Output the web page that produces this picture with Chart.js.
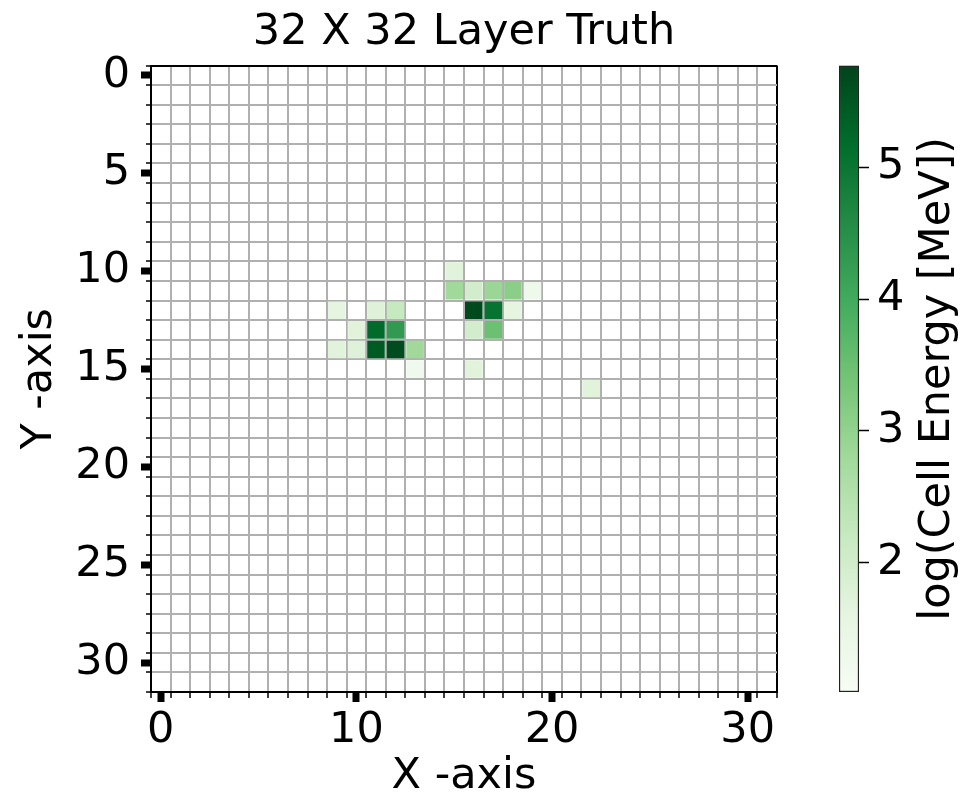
<!DOCTYPE html>
<html>
<head>
<meta charset="utf-8">
<script src="https://cdn.jsdelivr.net/npm/chart.js@4.4.1/dist/chart.umd.min.js"></script>
<style>
  body { margin: 0; background: #fff; }
  #wrap { position: relative; width: 968px; height: 803px; }
  canvas { position: absolute; left: 0; top: 0; }
</style>
</head>
<body>
<div id="wrap">
  <canvas id="heatmap" width="968" height="803"></canvas>
  <canvas id="colorbar" width="968" height="803"></canvas>
</div>
<script>
// non-empty cells of the 32x32 layer (column, row, log energy)
var cellX = [15, 15, 16, 17, 18, 19, 9, 11, 12, 16, 17, 18, 10, 11, 12, 16, 17, 9, 10, 11, 12, 13, 13, 16, 22];
var cellY = [10, 11, 11, 11, 11, 11, 12, 12, 12, 12, 12, 12, 13, 13, 13, 13, 13, 14, 14, 14, 14, 14, 15, 15, 16];
var cellEnergy = [1.7, 2.8, 2.0, 2.9, 3.1, 1.3, 1.6, 1.75, 2.2, 5.7, 5.05, 1.6, 1.7, 5.2, 4.3, 2.0, 3.5, 1.7, 1.75, 5.45, 5.65, 2.8, 1.25, 1.7, 1.7];

var gridSize = 32;
var xTicks = [0, 10, 20, 30];
var yTicks = [0, 5, 10, 15, 20, 25, 30];
var cbTicks = [2, 3, 4, 5];
var cbMin = 1.02;
var cbMax = 5.77;

// matplotlib "Greens"
var greens = ['#f7fcf5', '#e5f5e0', '#c7e9c0', '#a1d99b', '#74c476', '#41ab5d', '#238b45', '#006d2c', '#00441b'];

Chart.defaults.font.family = 'DejaVu Sans';
Chart.defaults.color = '#000';

function hexToRgb(h) {
    return [parseInt(h.substr(1, 2), 16), parseInt(h.substr(3, 2), 16), parseInt(h.substr(5, 2), 16)];
}

function greenFor(v) {
    var t = (v - cbMin) / (cbMax - cbMin);
    t = Math.max(0, Math.min(1, t));
    var pos = t * (greens.length - 1);
    var i = Math.min(Math.floor(pos), greens.length - 2);
    var f = pos - i;
    var a = hexToRgb(greens[i]), b = hexToRgb(greens[i + 1]);
    var c = a.map(function (x, k) { return Math.round(x + (b[k] - x) * f); });
    return 'rgb(' + c.join(',') + ')';
}

function isEdge(v) { return Math.abs(v % 1) === 0.5; }
function isBound(v) { return v === -0.5 || v === gridSize - 0.5; }

// boundaries at half cells plus the labelled centres
function tickBuilder(labels) {
    return function (axis) {
        var list = [];
        for (var k = 0; k <= gridSize; k++) list.push({ value: k - 0.5 });
        labels.forEach(function (v) { list.push({ value: v }); });
        list.sort(function (a, b) { return a.value - b.value; });
        axis.ticks = list;
    };
}

function gridOpts(vertical) {
    return {
        color: function (c) {
            if (!c.tick) return 'rgba(0,0,0,0)';
            if (isBound(c.tick.value)) return '#000';
            return isEdge(c.tick.value) ? '#b0b0b0' : 'rgba(0,0,0,0)';
        },
        lineWidth: function (c) { return c.tick && isEdge(c.tick.value) ? 2 : 0; },
        tickColor: '#000',
        tickWidth: function (c) { return c.tick && isEdge(c.tick.value) ? 1.5 : 7; },
        tickLength: 10,
        tickBorderDash: function (c) { return c.tick && isEdge(c.tick.value) ? [5, 100] : []; },
        tickBorderDashOffset: function (c) { return (vertical && c.tick && isEdge(c.tick.value)) ? 100 : 0; }
    };
}

function labelFor(list) {
    return function (v) { return list.indexOf(v) >= 0 ? String(v) : ''; };
}

var cells = cellX.map(function (x, i) { return { x: x, y: cellY[i] }; });

new Chart(document.getElementById('heatmap'), {
    type: 'scatter',
    data: {
        datasets: [{
            data: cells,
            pointStyle: 'rect',
            borderWidth: 0,
            backgroundColor: function (c) { return greenFor(cellEnergy[c.dataIndex]); },
            radius: function (c) {
                var s = c.chart.scales.x;
                var cell = Math.abs(s.getPixelForValue(1) - s.getPixelForValue(0));
                return (cell - 2) / Math.SQRT2;
            }
        }]
    },
    options: {
        responsive: false,
        animation: false,
        events: [],
        layout: { padding: { left: 0, right: 191, top: 0, bottom: 0 } },
        plugins: {
            legend: { display: false },
            tooltip: { enabled: false },
            title: {
                display: true,
                text: '32 X 32 Layer Truth',
                fullSize: false,
                font: { size: 43, weight: 'normal' },
                padding: { top: 7, bottom: 7 }
            }
        },
        scales: {
            x: {
                type: 'linear',
                min: -0.5,
                max: gridSize - 0.5,
                afterBuildTicks: tickBuilder(xTicks),
                afterFit: function (s) { s.height = 111; },
                grid: gridOpts(false),
                border: { color: '#000', width: 2 },
                ticks: { autoSkip: false, maxRotation: 0, font: { size: 43 }, padding: 3, callback: labelFor(xTicks) },
                title: { display: true, text: 'X -axis', font: { size: 43 }, padding: { top: 0, bottom: 0 } }
            },
            y: {
                type: 'linear',
                reverse: true,
                min: -0.5,
                max: gridSize - 0.5,
                afterBuildTicks: tickBuilder(yTicks),
                afterFit: function (s) { s.width = 151; },
                grid: gridOpts(true),
                border: { color: '#000', width: 2 },
                ticks: { autoSkip: false, font: { size: 43 }, padding: 11, callback: labelFor(yTicks) },
                title: { display: true, text: 'Y -axis', font: { size: 43, lineHeight: 1.0 }, padding: { top: 18, bottom: 0 } }
            }
        }
    }
});

// colour bar
var cbLabel = {
    id: 'cbLabel',
    afterDraw: function (chart) {
        var ctx = chart.ctx;
        var a = chart.chartArea;
        ctx.save();
        ctx.font = '43px "DejaVu Sans"';
        ctx.fillStyle = '#000';
        ctx.textAlign = 'center';
        ctx.textBaseline = 'middle';
        ctx.translate(938, (a.top + a.bottom) / 2);
        ctx.rotate(-Math.PI / 2);
        ctx.fillText('log(Cell Energy [MeV])', 0, 0);
        ctx.restore();
    }
};

new Chart(document.getElementById('colorbar'), {
    type: 'bar',
    data: {
        labels: [''],
        datasets: [{
            data: [[cbMin, cbMax]],
            barPercentage: 1,
            categoryPercentage: 1,
            borderWidth: 1.5,
            borderColor: '#222',
            borderSkipped: false,
            backgroundColor: function (c) {
                var a = c.chart.chartArea;
                if (!a) return greens[4];
                var g = c.chart.ctx.createLinearGradient(0, a.bottom, 0, a.top);
                greens.forEach(function (col, i) { g.addColorStop(i / (greens.length - 1), col); });
                return g;
            }
        }]
    },
    options: {
        responsive: false,
        animation: false,
        events: [],
        layout: { padding: { left: 839, right: 0, top: 65.6, bottom: 111 } },
        plugins: { legend: { display: false }, tooltip: { enabled: false } },
        scales: {
            x: { display: false },
            y: {
                position: 'right',
                min: cbMin,
                max: cbMax,
                afterBuildTicks: function (axis) { axis.ticks = cbTicks.map(function (v) { return { value: v }; }); },
                afterFit: function (s) { s.width = 109; },
                grid: { drawOnChartArea: false, tickLength: 10, tickColor: '#000', tickWidth: 1.5 },
                border: { display: false },
                ticks: { font: { size: 43 }, padding: 8 }
            }
        }
    },
    plugins: [cbLabel]
});
</script>
</body>
</html>
